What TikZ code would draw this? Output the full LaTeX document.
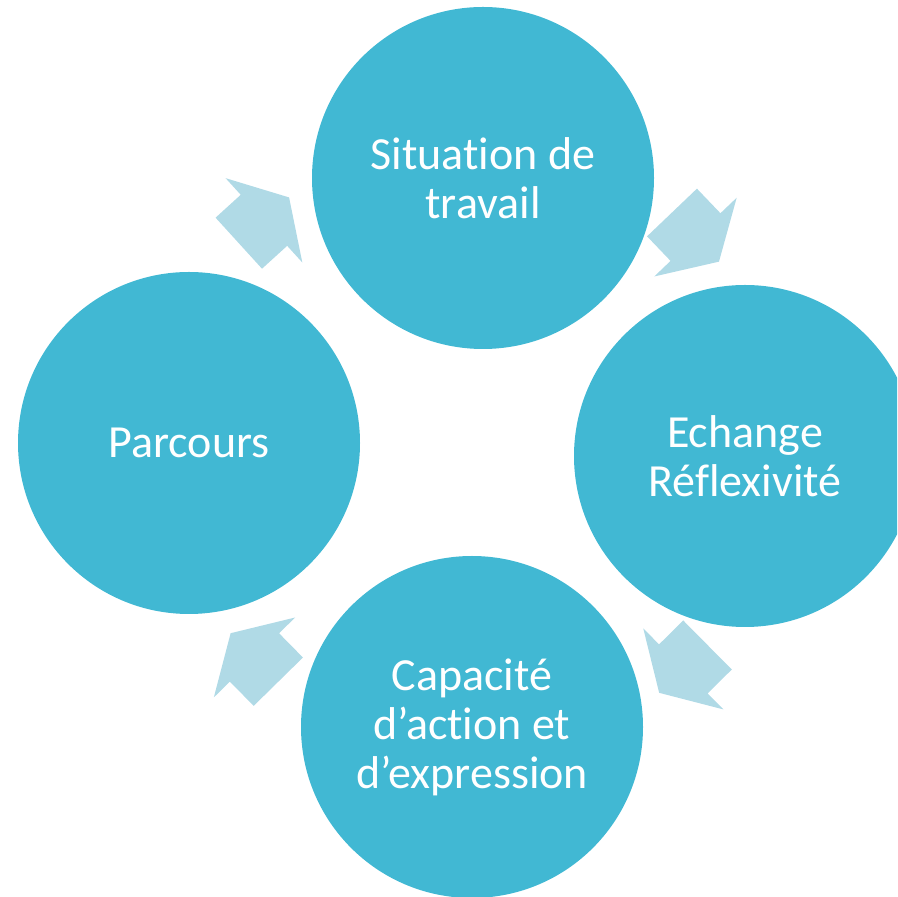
\documentclass[tikz,border=0pt]{standalone}
\usepackage{fontspec}
\setmainfont[Ligatures={NoCommon}]{Carlito}
\definecolor{circblue}{HTML}{41B8D3}
\definecolor{arrowblue}{HTML}{B0DAE6}
\tikzset{
  x=1pt,y=1pt,
  circ/.style={circle,fill=circblue,minimum size=342pt,inner sep=0pt,
    text=white,align=center,font=\fontsize{46}{49}\selectfont},
  barrow/.pic={\fill[arrowblue] (0,-34.5) -- (34,-34.5) -- (34,-57) -- (68,0)
     -- (34,57) -- (34,34.5) -- (0,34.5) -- cycle;}
}
\begin{document}
\begin{tikzpicture}
\useasboundingbox (0,0) rectangle (897,897);
\clip (0,0) rectangle (897,897);
\node[circ] (top) at (483,719) {Situation de\\travail};
\node[circ] (right) at (745,441) {Echange\\Réflexivité};
\node[circ] (bottom) at (472,170) {Capacité\\d’action et\\d’expression};
\node[circ] (left) at (189,454) {Parcours};
\pic[rotate=42.3] at (238.8,653.8) {barrow};
\pic[rotate=-46.3] at (672,684.5) {barrow};
\pic[rotate=-135.3] at (707.5,252) {barrow};
\pic[rotate=134.5] at (278.3,215.3) {barrow};
\end{tikzpicture}
\end{document}
